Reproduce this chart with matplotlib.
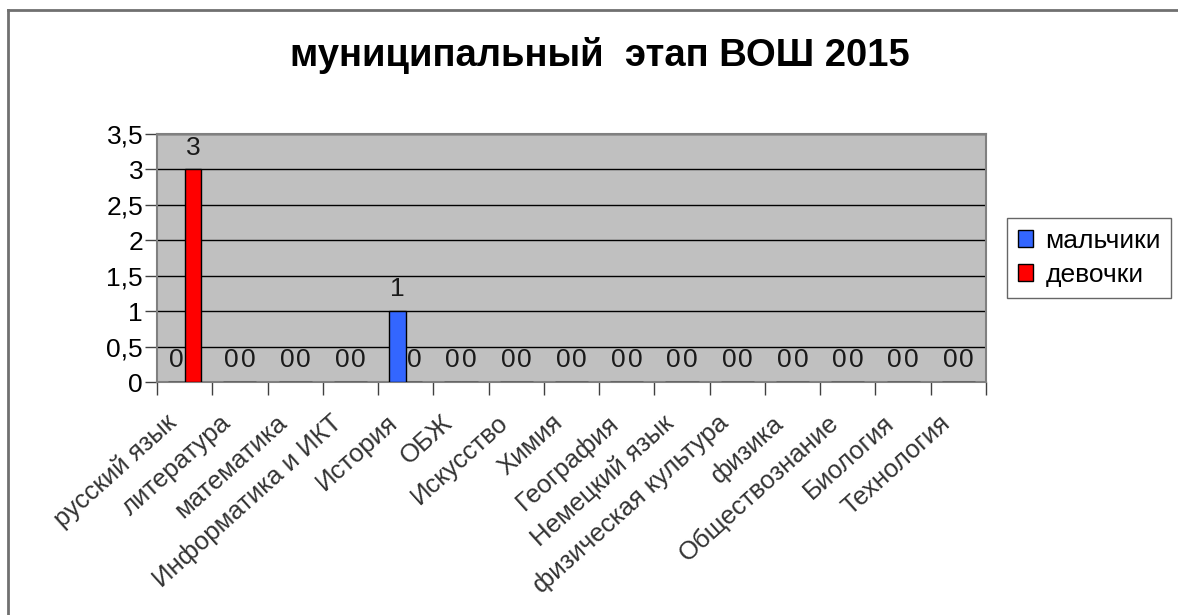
import numpy as np
import matplotlib.pyplot as plt
from matplotlib.lines import Line2D
from matplotlib.transforms import ScaledTranslation

plt.rcParams['font.family'] = ['Liberation Sans', 'DejaVu Sans']

subjects = ['русский язык', 'литература', 'математика', 'Информатика и ИКТ',
            'История', 'ОБЖ', 'Искусство', 'Химия', 'География', 'Немецкий язык',
            'физическая культура', 'физика', 'Обществознание', 'Биология', 'Технология']
boys = [0, 0, 0, 0, 1, 0, 0, 0, 0, 0, 0, 0, 0, 0, 0]
girls = [3, 0, 0, 0, 0, 0, 0, 0, 0, 0, 0, 0, 0, 0, 0]
yticks = [0, 0.5, 1, 1.5, 2, 2.5, 3, 3.5]
ytick_labels = ['0', '0,5', '1', '1,5', '2', '2,5', '3', '3,5']

fig = plt.figure(figsize=(11.78, 6.15), dpi=100)
ax = fig.add_axes([157/1178, 1 - 382/615, (986 - 157)/1178, (382 - 134)/615])

x = np.arange(len(subjects))
w = 0.3
b1 = ax.bar(x - w/2, boys, w, color='#3366FF', edgecolor='black', linewidth=1, label='мальчики', zorder=3)
b2 = ax.bar(x + w/2, girls, w, color='#FF0000', edgecolor='black', linewidth=1, label='девочки', zorder=3)

for bars in (b1, b2):
    for r in bars:
        ax.annotate('%g' % r.get_height(), (r.get_x() + r.get_width()/2, r.get_height()),
                    xytext=(0, 7), textcoords='offset points', ha='center', va='bottom',
                    fontsize=19, color='#1a1a1a', zorder=4)

ax.set_facecolor('#C0C0C0')
ax.set_xlim(-0.5, len(subjects) - 0.5)
ax.set_ylim(0, 3.5)
ax.set_yticks(yticks)
ax.set_yticklabels(ytick_labels, fontsize=19)
ax.yaxis.grid(True, color='black', linewidth=1, zorder=1)
ax.set_axisbelow(True)
ax.tick_params(axis='y', length=9, width=1, color='#404040', pad=1)

ax.set_xticks(x)
ax.set_xticklabels(subjects, rotation=42, ha='right', va='center', rotation_mode='anchor',
                   fontsize=18.5, color='#333333')
ax.tick_params(axis='x', length=0, pad=27)
ax.set_xticks(np.arange(-0.5, len(subjects)), minor=True)
ax.tick_params(axis='x', which='minor', length=9, width=1, color='#404040')
shift = ScaledTranslation(-0.12, 0, fig.dpi_scale_trans)
for lbl in ax.get_xticklabels():
    lbl.set_transform(lbl.get_transform() + shift)

for s in ax.spines.values():
    s.set_color('#808080')
    s.set_linewidth(1.5)

leg = ax.legend(loc='upper left', bbox_to_anchor=(1007/1178, 1 - 218/615),
                bbox_transform=fig.transFigure, borderaxespad=0, fontsize=19, frameon=True,
                fancybox=False, handlelength=0.6, handleheight=0.6, handletextpad=0.45,
                borderpad=0.4, labelspacing=0.4)
leg.get_frame().set_edgecolor('#404040')
leg.get_frame().set_linewidth(1)

fig.text(600/1178, 1 - 56/615, 'муниципальный  этап ВОШ 2015', ha='center', va='center',
         fontsize=27.5, fontweight='bold')

fig.add_artist(Line2D([8/1178, 1], [1 - 10/615, 1 - 10/615], color='#707070', linewidth=2))
fig.add_artist(Line2D([8/1178, 8/1178], [0, 1 - 10/615], color='#707070', linewidth=2))

fig.savefig('out.png', dpi=100)
